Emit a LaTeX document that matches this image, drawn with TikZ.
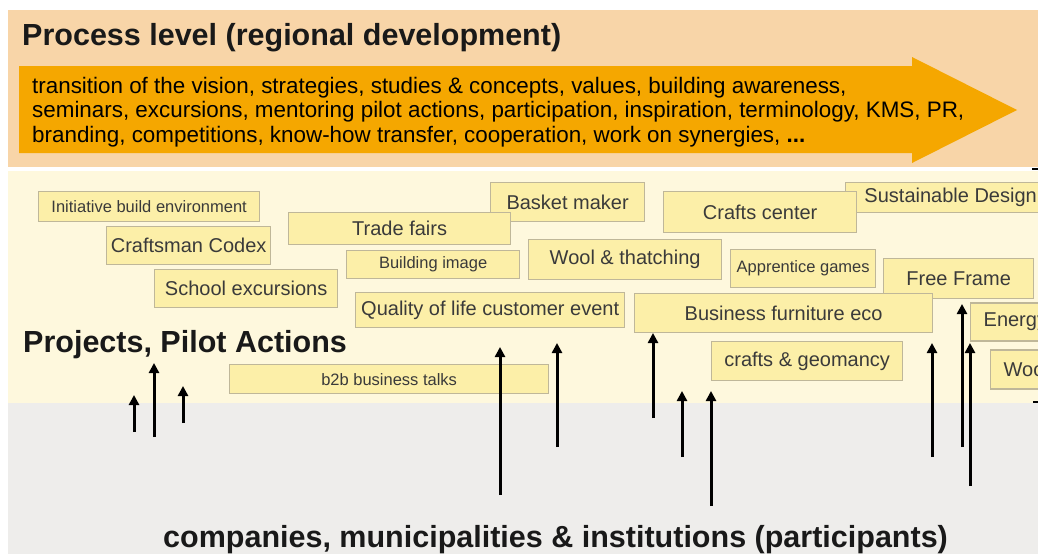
\documentclass[tikz,border=0pt]{standalone}
\usepackage{fontspec}
\setmainfont{Liberation Sans}
\usetikzlibrary{arrows.meta}
\definecolor{peach}{HTML}{F8D5A8}
\definecolor{ltyellow}{HTML}{FEF8DD}
\definecolor{greyband}{HTML}{EEEDEB}
\definecolor{orangearrow}{HTML}{F5A700}
\definecolor{boxfill}{HTML}{FCEFA8}
\definecolor{boxedge}{HTML}{BFB799}
\definecolor{boxtext}{HTML}{3A3A3A}
\tikzset{
  pbox/.style={draw=boxedge, fill=boxfill, line width=1.3pt, inner sep=0pt,
    anchor=north west, text=boxtext, font=\fontsize{20}{24}\selectfont},
  sbox/.style={pbox, font=\fontsize{16.5}{20}\selectfont},
  cutbox/.style={pbox, anchor=west, inner xsep=13pt, inner ysep=0pt, text width=85pt, align=left},
  uparrow/.style={line width=3pt, -{Triangle[width=10pt,length=10pt]}},
  headline/.style={anchor=base west, inner sep=0pt, font=\fontsize{30.5}{34}\selectfont\bfseries, text=black!90},
  arrowtext/.style={anchor=base west, inner sep=0pt, font=\fontsize{22.4}{25}\selectfont, text=black}
}
\begin{document}
\begin{tikzpicture}[x=1pt,y=-1pt]
\useasboundingbox (0,0) rectangle (1038,554);
\clip (0,0) rectangle (1038,554);
% bands
\fill[white] (0,0) rectangle (1038,554);
\fill[peach] (8,10) rectangle (1038,167);
\fill[ltyellow] (8,171) rectangle (1038,403);
\fill[greyband] (8,403) rectangle (1038,554);
% orange arrow
\fill[orangearrow] (19,66) -- (912,66) -- (912,57) -- (1017,110) -- (912,163) -- (912,153) -- (19,153) -- cycle;
\node[headline] (title) at (22,45) {Process level (regional development)};
\node[arrowtext] (l1) at (32,93) {transition of the vision, strategies, studies \& concepts, values, building awareness,};
\node[arrowtext] (l2) at (32,117.5) {seminars, excursions, mentoring pilot actions, participation, inspiration, terminology, KMS, PR,};
\node[arrowtext] (l3) at (32,142) {branding, competitions, know-how transfer, cooperation, work on synergies, \textbf{...}};
% boxes
\node[sbox, minimum width=221, minimum height=30] (ibe) at (38,191) {Initiative build environment};
\node[pbox, minimum width=164, minimum height=38] (codex) at (106,226) {Craftsman Codex};
\node[pbox, minimum width=183, minimum height=38] (school) at (154,269) {School excursions};
\node[pbox, minimum width=154, minimum height=39] (basket) at (490,182) {Basket maker};
\node[pbox, minimum width=222, minimum height=32] (trade) at (288,212) {Trade fairs};
\node[sbox, minimum width=173, minimum height=28] (bimage) at (346,250) {Building image};
\node[pbox, minimum width=269, minimum height=35] (quality) at (355,292) {Quality of life customer event};
\node[sbox, minimum width=319, minimum height=29] (b2b) at (229,364) {b2b business talks};
\node[pbox, minimum width=193, minimum height=40] (wool) at (528,239) {Wool \& thatching};
\node[pbox, minimum width=210, minimum height=30] (sust) at (845,182) {Sustainable Design};
\node[pbox, minimum width=193, minimum height=41] (crafts) at (663,191) {Crafts center};
\node[sbox, minimum width=145, minimum height=38] (appr) at (730,249) {Apprentice games};
\node[pbox, minimum width=150, minimum height=40] (free) at (883,258) {Free Frame};
\node[pbox, minimum width=298, minimum height=39] (bfe) at (634,293) {Business furniture eco};
\node[pbox, minimum width=191, minimum height=39] (geo) at (711,341) {crafts \& geomancy};
\node[cutbox, minimum height=38] (energy) at (970,322) {Energy};
\node[cutbox, minimum height=39] (wood) at (990,369.5) {Wood};
\node[headline] (projects) at (23,352) {Projects, Pilot Actions};
\node[headline] (participants) at (163,547) {companies, municipalities \& institutions (participants)};
% arrows
\foreach \n/\x/\b/\t in {a/134/432/395, b/154/437/363, c/183/423/386, d/500/495/347,
  e/557/447/343, f/653/418/333, g/682/457/391, h/711/506/391, i/932/457/343,
  j/962/447/304, k/970/486/343} {
  \coordinate (s\n) at (\x,\b);
  \coordinate (e\n) at (\x,\t);
  \draw[uparrow] (s\n) -- (e\n);
}
% edge ticks
\coordinate (t1a) at (1032,169); \coordinate (t1b) at (1038,169);
\coordinate (t2a) at (1033,402); \coordinate (t2b) at (1038,402);
\draw[line width=2.5pt] (t1a) -- (t1b);
\draw[line width=2pt] (t2a) -- (t2b);
\end{tikzpicture}
\end{document}
